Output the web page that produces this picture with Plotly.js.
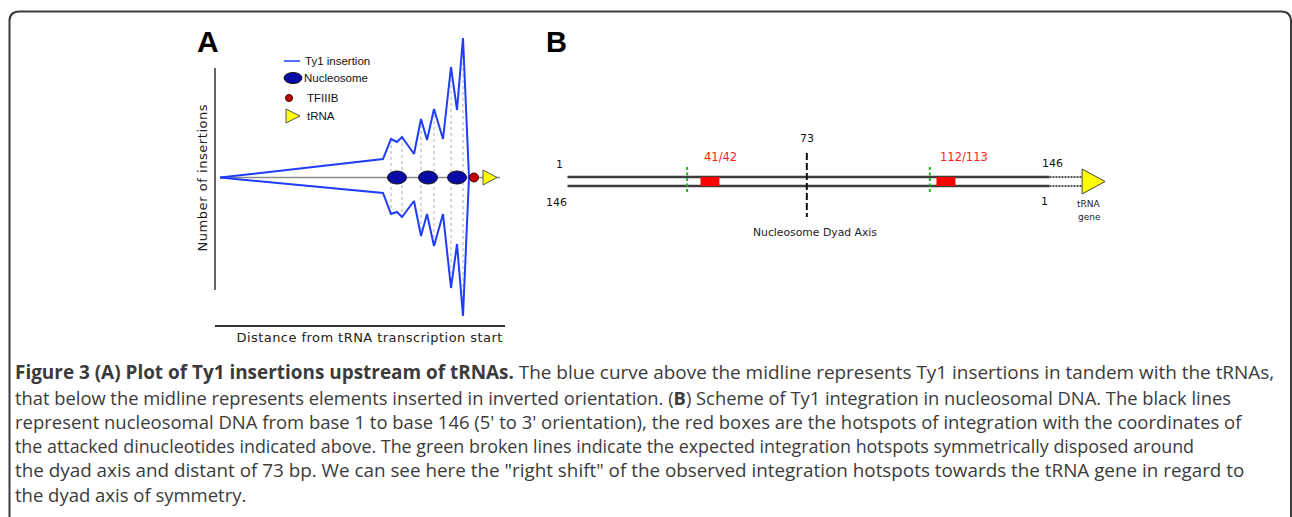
<!DOCTYPE html>
<html><head><meta charset="utf-8">
<script src="https://cdn.plot.ly/plotly-3.0.1.min.js"></script>
<style>html,body{margin:0;padding:0;background:#fff}#chart{width:1292px;height:517px}</style>
</head><body><div id="chart"></div>
<script>
// ---------- Panel A data ----------
const distance = [-263, -100, -92, -86, -81, -69, -62, -56, -49, -40, -32, -26, -20, -14]; // position relative to tRNA start
const tandemInsertions = [0, 18.5, 38.5, 35.5, 40.5, 23.5, 58.5, 37.5, 68.5, 38.5, 110.5, 67.5, 139.5, 0];
const invertedInsertions = [0, -15.5, -36.5, -34.5, -39.5, -23.5, -58.5, -36.5, -68.5, -36.5, -110.5, -66.5, -138.5, 0];
const nucleosomePos = [-86, -55, -26];
const tfiiibPos = [-9];
const trnaStart = [0];
const legendLabels = ['Ty1 insertion', 'Nucleosome', 'TFIIIB', 'tRNA'];

// ---------- Panel B data ----------
const strandStart = 1, strandEnd = 146;
const dyadBase = 73;
const expectedHotspots = [37, 110];
const observedHotspots = [41, 112];
const hotspotLabels = ['41/42', '112/113'];
const geneBase = 155.8;

// ---------- Caption ----------
const captionLines = [
  '<b>Figure 3 (A) Plot of Ty1 insertions upstream of tRNAs.</b> The blue curve above the midline represents Ty1 insertions in tandem with the tRNAs,',
  'that below the midline represents elements inserted in inverted orientation. (<b>B</b>) Scheme of Ty1 integration in nucleosomal DNA. The black lines',
  "represent nucleosomal DNA from base 1 to base 146 (5' to 3' orientation), the red boxes are the hotspots of integration with the coordinates of",
  'the attacked dinucleotides indicated above. The green broken lines indicate the expected integration hotspots symmetrically disposed around',
  'the dyad axis and distant of 73 bp. We can see here the "right shift" of the observed integration hotspots towards the tRNA gene in regard to',
  'the dyad axis of symmetry.'
];
const captionTargetRight = [1273, 1230, 1241, 1193, 1243, null];

const W = 1292, H = 517;
const px = x => x / W;
const py = y => 1 - y / H;

const BLUE = '#1f3dfb';
const NAVY = '#0a0aa6';
const DRED = '#c40000';
const YEL = '#ffff00';

const traces = [];
// midline
traces.push({x: [distance[0], trnaStart[0] + 17], y: [0, 0], xaxis: 'x', yaxis: 'y', mode: 'lines',
  line: {color: '#8a8a8a', width: 1.5}, hoverinfo: 'skip'});
// dotted verticals at local maxima
const dx = [], dy = [];
for (let i = 1; i < tandemInsertions.length - 1; i++) {
  if (tandemInsertions[i] > tandemInsertions[i - 1] && tandemInsertions[i] > tandemInsertions[i + 1]) {
    dx.push(distance[i], distance[i], null);
    dy.push(tandemInsertions[i], invertedInsertions[i], null);
  }
}
traces.push({x: dx, y: dy, xaxis: 'x', yaxis: 'y', mode: 'lines', line: {color: '#b0b0b0', width: 1, dash: 'dot'}, hoverinfo: 'skip'});
traces.push({x: distance, y: tandemInsertions, xaxis: 'x', yaxis: 'y', mode: 'lines', line: {color: BLUE, width: 2}});
traces.push({x: distance, y: invertedInsertions, xaxis: 'x', yaxis: 'y', mode: 'lines', line: {color: BLUE, width: 2}});
traces.push({x: tfiiibPos, y: [0], xaxis: 'x', yaxis: 'y', mode: 'markers',
  marker: {color: DRED, size: 9, line: {color: '#3a0000', width: 1}}});

// Panel B traces
const strandY = 4.5;
traces.push({x: [strandStart, strandEnd, null, strandStart, strandEnd], y: [strandY, strandY, null, -strandY, -strandY],
  xaxis: 'x2', yaxis: 'y2', mode: 'lines', line: {color: '#3d3d3d', width: 2.5}});
traces.push({x: [strandEnd, geneBase, null, strandEnd, geneBase], y: [strandY, strandY, null, -strandY, -strandY],
  xaxis: 'x2', yaxis: 'y2', mode: 'lines', line: {color: '#555', width: 2, dash: '2px,1px'}});
const gx = [], gy = [];
expectedHotspots.forEach(b => { gx.push(b, b, null); gy.push(14.5, -12.5, null); });
traces.push({x: gx, y: gy, xaxis: 'x2', yaxis: 'y2', mode: 'lines', line: {color: '#22b422', width: 2, dash: '3px,2.5px'}});
traces.push({x: [dyadBase, dyadBase], y: [28.5, -35.5], xaxis: 'x2', yaxis: 'y2', mode: 'lines',
  line: {color: '#111', width: 2, dash: '7px,3px'}});

const shapes = [];
// frame
shapes.push({type: 'path', xref: 'paper', yref: 'paper',
  path: `M${px(9.5)},${py(530)} L${px(9.5)},${py(21)} Q${px(9.5)},${py(11.5)} ${px(19.5)},${py(11.5)} L${px(1281)},${py(11.5)} Q${px(1291)},${py(11.5)} ${px(1291)},${py(21.5)} L${px(1291)},${py(530)}`,
  line: {color: '#3a3a3a', width: 2}});
// Panel A y-axis line
shapes.push({type: 'line', xref: 'x domain', yref: 'y', x0: 0, x1: 0, y0: 109.5, y1: -112.5, line: {color: '#333', width: 1.5}});
// nucleosomes
nucleosomePos.forEach(p => shapes.push({type: 'circle', xref: 'x', yref: 'y', xsizemode: 'pixel', ysizemode: 'pixel',
  xanchor: p, yanchor: 0, x0: -9.5, x1: 9.5, y0: -6.5, y1: 6.5, fillcolor: NAVY, line: {color: '#111', width: 1}}));
// tRNA triangle A
shapes.push({type: 'path', xref: 'x', yref: 'y', xsizemode: 'pixel', ysizemode: 'pixel', xanchor: trnaStart[0], yanchor: 0,
  path: 'M0,7.5 L14,0 L0,-7.5 Z', fillcolor: YEL, line: {color: '#555', width: 1}});
// legend marks A
shapes.push({type: 'line', xref: 'paper', yref: 'paper', x0: px(284), x1: px(300), y0: py(61), y1: py(61), line: {color: BLUE, width: 1.5}});
shapes.push({type: 'circle', xref: 'paper', yref: 'paper', x0: px(284), x1: px(302), y0: py(83.5), y1: py(72.5), fillcolor: NAVY, line: {color: '#111', width: 1}});
shapes.push({type: 'circle', xref: 'paper', yref: 'paper', x0: px(285.5), x1: px(292.5), y0: py(101.5), y1: py(94.5), fillcolor: DRED, line: {color: '#3a0000', width: 1}});
shapes.push({type: 'path', xref: 'paper', yref: 'paper',
  path: `M${px(286)},${py(109)} L${px(300)},${py(116)} L${px(286)},${py(123)} Z`, fillcolor: YEL, line: {color: '#555', width: 1}});
// Panel B red boxes
observedHotspots.forEach(b => shapes.push({type: 'rect', xref: 'x2', yref: 'y2', x0: b, x1: b + 5.7, y0: -strandY, y1: strandY,
  fillcolor: '#ff0000', line: {width: 0}}));
// Panel B tRNA gene triangle
shapes.push({type: 'path', xref: 'x2', yref: 'y2', xsizemode: 'pixel', ysizemode: 'pixel', xanchor: geneBase, yanchor: 0,
  path: 'M0,12.5 L23,0 L0,-12.5 Z', fillcolor: YEL, line: {color: '#444', width: 1}});

const ann = [];
const dv = 'DejaVu Sans, sans-serif';
const ar = 'Liberation Sans, Arial, sans-serif';
function pa(text, x, y, font, extra) {
  return Object.assign({text, xref: 'paper', yref: 'paper', x: px(x), y: py(y), showarrow: false, font,
    xanchor: 'center', yanchor: 'middle'}, extra || {});
}
ann.push(pa('<b>A</b>', 207.5, 41, {family: ar, size: 30, color: '#000'}));
ann.push(pa('<b>B</b>', 556.5, 42, {family: ar, size: 29, color: '#000'}));
const yTitleIdx = ann.length;
ann.push(pa('Number of insertions', 202, 178, {family: dv, size: 13, color: '#222'}, {textangle: -90}));
const xTitleIdx = ann.length;
ann.push(pa('Distance from tRNA transcription start', 370, 337, {family: dv, size: 13, color: '#222'}));
const legY = [61, 78, 98, 116], legX = [303, 302, 305, 305];
legendLabels.forEach((t, i) => ann.push(pa(t, legX[i], legY[i], {family: ar, size: 11.5, color: '#111'}, {xanchor: 'left'})));

// Panel B labels
function ba(text, x, y, font, extra) {
  return Object.assign({text, xref: 'x2', yref: 'y2', x, y, showarrow: false, font, xanchor: 'center', yanchor: 'middle'}, extra || {});
}
ann.push(ba(String(dyadBase), dyadBase, 43.5, {family: dv, size: 11, color: '#111'}));
ann.push(ba(String(strandStart), strandStart, 17.5, {family: dv, size: 11, color: '#111'}, {xshift: -7.5}));
ann.push(ba(String(strandEnd), strandStart, -20.5, {family: dv, size: 11, color: '#111'}, {xshift: -10.5}));
ann.push(ba(String(strandEnd), strandEnd, 18.5, {family: dv, size: 11, color: '#111'}, {xshift: 3.5}));
ann.push(ba(String(strandStart), strandEnd, -19.5, {family: dv, size: 11, color: '#111'}, {xshift: -4.5}));
hotspotLabels.forEach((t, i) => ann.push(ba(t, observedHotspots[i], 24.5, {family: dv, size: 11.5, color: '#ff2020'}, {xanchor: 'left', xshift: 2})));
ann.push(ba('tRNA', geneBase, -22.5, {family: dv, size: 9, color: '#222'}, {xshift: 7}));
ann.push(ba('gene', geneBase, -35.5, {family: dv, size: 9, color: '#222'}, {xshift: 7}));
ann.push(ba('Nucleosome Dyad Axis', dyadBase, -50.5, {family: dv, size: 10.8, color: '#222'}, {xshift: 8}));

// Caption
const capY = [372, 397, 421.5, 446, 470, 494.5];
const capStart = ann.length;
captionLines.forEach((t, i) => ann.push(pa(t, 13, capY[i], {family: 'Open Sans, sans-serif', size: 17, color: '#3b3b3b'}, {xanchor: 'left'})));

const axOff = {showgrid: false, zeroline: false, showticklabels: false, ticks: '', fixedrange: true};
const layout = {
  width: W, height: H, margin: {l: 0, r: 0, t: 0, b: 0}, paper_bgcolor: '#fff', plot_bgcolor: 'rgba(0,0,0,0)',
  showlegend: false, hovermode: false,
  xaxis: Object.assign({domain: [px(215), px(505)], range: [-268, 22], anchor: 'y', showline: true, linecolor: '#333', linewidth: 1.5}, axOff),
  yaxis: Object.assign({domain: [py(325), py(30)], range: [-147.5, 147.5], anchor: 'x', showline: false}, axOff),
  xaxis2: Object.assign({domain: [px(540), px(1130)], range: [-7.27, 170.22], anchor: 'y2', showline: false}, axOff),
  yaxis2: Object.assign({domain: [py(240), py(120)], range: [-58.5, 61.5], anchor: 'x2', showline: false}, axOff),
  shapes, annotations: ann
};

function spacing(gd) {
  const nodes = gd.querySelectorAll('.annotation');
  [[yTitleIdx, '0.55px'], [xTitleIdx, '0.45px']].forEach(([i, s]) => {
    const t = nodes[i] && nodes[i].querySelector('text');
    if (t) t.style.letterSpacing = s;
  });
}

Plotly.newPlot('chart', traces, layout, {staticPlot: true, displayModeBar: false}).then(gd => {
  // fit each caption line to the measured line length of the reference
  const nodes = gd.querySelectorAll('.annotation');
  const upd = {};
  const sizes = [];
  captionLines.forEach((t, i) => {
    const target = captionTargetRight[i];
    if (target === null) return;
    const el = nodes[capStart + i];
    if (!el) return;
    const w = el.querySelector('text').getBBox().width;
    if (w > 0) { const s = 17 * (target - 13) / w; sizes.push(s); upd[`annotations[${capStart + i}].font.size`] = s; }
  });
  if (sizes.length) {
    const mean = sizes.reduce((a, b) => a + b, 0) / sizes.length;
    captionLines.forEach((t, i) => { if (captionTargetRight[i] === null) upd[`annotations[${capStart + i}].font.size`] = mean; });
  }
  return Plotly.relayout(gd, upd);
}).then(() => spacing(document.getElementById('chart')));
</script></body></html>
